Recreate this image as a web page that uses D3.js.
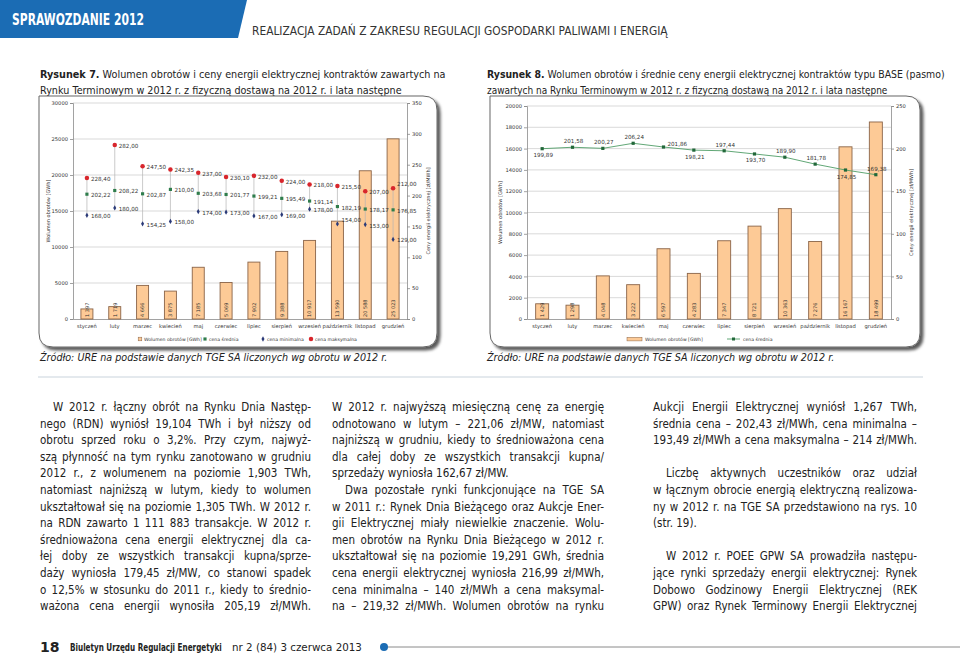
<!DOCTYPE html>
<html>
<head>
<meta charset="utf-8">
<script src="https://d3js.org/d3.v7.min.js"></script>
<style>
  body { margin: 0; background: #fff; }
  svg { display: block; }
</style>
</head>
<body>
<svg id="page" width="960" height="656"></svg>
<script>
// ---- Rysunek 7: dane ----
var months = ["styczeń", "luty", "marzec", "kwiecień", "maj", "czerwiec", "lipiec", "sierpień", "wrzesień", "październik", "listopad", "grudzień"];
var wolumen7 = [1397, 1719, 4666, 3875, 7185, 5069, 7902, 9388, 10917, 13590, 20588, 25023];
var cenaSrednia7 = [202.22, 208.22, 202.87, 210.00, 203.68, 201.77, 199.21, 195.49, 191.14, 182.19, 178.17, 176.85];
var cenaMin7 = [168.00, 180.00, 154.25, 158.00, 174.00, 173.00, 167.00, 169.00, 178.00, 154.00, 153.00, 129.00];
var cenaMax7 = [228.40, 282.00, 247.50, 242.35, 237.00, 230.10, 232.00, 224.00, 218.00, 215.50, 207.00, 212.00];
var ticksVol7 = [0, 5000, 10000, 15000, 20000, 25000, 30000];
var ticksPrice7 = [0, 50, 100, 150, 200, 250, 300, 350];

// ---- Rysunek 8: dane ----
var wolumen8 = [1429, 1298, 4048, 3222, 6597, 4283, 7347, 8721, 10363, 7276, 16167, 18499];
var cenaSrednia8 = [199.89, 201.58, 200.27, 206.24, 201.86, 198.21, 197.44, 193.70, 189.90, 181.78, 174.85, 169.38];
var ticksVol8 = [0, 2000, 4000, 6000, 8000, 10000, 12000, 14000, 16000, 18000, 20000];
var ticksPrice8 = [0, 50, 100, 150, 200, 250];

// tekst artykułu (linie jak w oryginale)
var col1 = [
  {t: "W 2012 r. łączny obrót na Rynku Dnia Następ-", ind: 1, j: 1},
  {t: "nego (RDN) wyniósł 19,104 TWh i był niższy od", j: 1},
  {t: "obrotu sprzed roku o 3,2%. Przy czym, najwyż-", j: 1},
  {t: "szą płynność na tym rynku zanotowano w grudniu", j: 1},
  {t: "2012 r., z wolumenem na poziomie 1,903 TWh,", j: 1},
  {t: "natomiast najniższą w lutym, kiedy to wolumen", j: 1},
  {t: "ukształtował się na poziomie 1,305 TWh. W 2012 r.", j: 1},
  {t: "na RDN zawarto 1 111 883 transakcje. W 2012 r.", j: 1},
  {t: "średnioważona cena energii elektrycznej dla ca-", j: 1},
  {t: "łej doby ze wszystkich transakcji kupna/sprze-", j: 1},
  {t: "daży wyniosła 179,45 zł/MW, co stanowi spadek", j: 1},
  {t: "o 12,5% w stosunku do 2011 r., kiedy to średnio-", j: 1},
  {t: "ważona cena energii wynosiła 205,19 zł/MWh.", j: 1}
];
var col2 = [
  {t: "W 2012 r. najwyższą miesięczną cenę za energię", j: 1},
  {t: "odnotowano w lutym – 221,06 zł/MW, natomiast", j: 1},
  {t: "najniższą w grudniu, kiedy to średnioważona cena", j: 1},
  {t: "dla całej doby ze wszystkich transakcji kupna/", j: 1},
  {t: "sprzedaży wyniosła 162,67 zł/MW."},
  {t: "Dwa pozostałe rynki funkcjonujące na TGE SA", ind: 1, j: 1},
  {t: "w 2011 r.: Rynek Dnia Bieżącego oraz Aukcje Ener-", j: 1},
  {t: "gii Elektrycznej miały niewielkie znaczenie. Wolu-", j: 1},
  {t: "men obrotów na Rynku Dnia Bieżącego w 2012 r.", j: 1},
  {t: "ukształtował się na poziomie 19,291 GWh, średnia", j: 1},
  {t: "cena energii elektrycznej wyniosła 216,99 zł/MWh,", j: 1},
  {t: "cena minimalna – 140 zł/MWh a cena maksymal-", j: 1},
  {t: "na – 219,32 zł/MWh. Wolumen obrotów na rynku", j: 1}
];
var col3 = [
  {t: "Aukcji Energii Elektrycznej wyniósł 1,267 TWh,", j: 1},
  {t: "średnia cena – 202,43 zł/MWh, cena minimalna –", j: 1},
  {t: "193,49 zł/MWh a cena maksymalna – 214 zł/MWh.", j: 1},
  {t: ""},
  {t: "Liczbę aktywnych uczestników oraz udział", ind: 1, j: 1},
  {t: "w łącznym obrocie energią elektryczną realizowa-", j: 1},
  {t: "ny w 2012 r. na TGE SA przedstawiono na rys. 10", j: 1},
  {t: "(str. 19)."},
  {t: ""},
  {t: "W 2012 r. POEE GPW SA prowadziła następu-", ind: 1, j: 1},
  {t: "jące rynki sprzedaży energii elektrycznej: Rynek", j: 1},
  {t: "Dobowo Godzinowy Energii Elektrycznej (REK", j: 1},
  {t: "GPW) oraz Rynek Terminowy Energii Elektrycznej", j: 1}
];

var BLUE = "#1b6cb4";
var BAR_FILL = "#fdca96", BAR_STROKE = "#8a6448";
var FONT = "'DejaVu Sans', Verdana, sans-serif";

var pl = d3.formatLocale({decimal: ",", thousands: " ", grouping: [3], currency: ["", " zł"]});
var fmtVol = pl.format(",");
var fmtPrice = pl.format(",.2f");
var fmtTick = pl.format("d");

var svg = d3.select("#page").style("font-family", FONT);

// tekst dopasowany do szerokości przez skalowanie w poziomie
function fitText(sel, width) {
  var n = sel.node();
  var w = n.getComputedTextLength();
  var x = +sel.attr("x"), y = +sel.attr("y");
  sel.attr("x", 0).attr("y", 0)
    .attr("transform", "translate(" + x + "," + y + ") scale(" + (width / w) + ",1)");
  return sel;
}

// cień ramki wykresu
var defs = svg.append("defs");
defs.append("filter").attr("id", "shadow").attr("x", "-5%").attr("y", "-5%").attr("width", "115%").attr("height", "115%")
  .append("feDropShadow").attr("dx", 3).attr("dy", 3).attr("stdDeviation", 1.6)
  .attr("flood-color", "#000").attr("flood-opacity", 0.65);

// ---- nagłówek ----
svg.append("path")
  .attr("d", "M0,0 H247 L238,38 H0 Z")
  .attr("fill", BLUE);
fitText(svg.append("text").attr("x", 12).attr("y", 25)
  .attr("fill", "#fff").attr("font-weight", "bold").attr("font-size", 16)
  .text("SPRAWOZDANIE 2012"), 132);
fitText(svg.append("text").attr("x", 252).attr("y", 35)
  .attr("fill", "#333").attr("font-size", 11.5)
  .text("REALIZACJA ZADAŃ Z ZAKRESU REGULACJI GOSPODARKI PALIWAMI I ENERGIĄ"), 416);

// tytuły rysunków
function figTitle(x, y, bold, rest, len) {
  var t = svg.append("text").attr("x", x).attr("y", y)
    .attr("font-size", 11).attr("fill", "#222");
  if (bold) t.append("tspan").attr("font-weight", "bold").text(bold);
  t.append("tspan").text(rest);
  fitText(t, len);
}
figTitle(40, 78, "Rysunek 7.", " Wolumen obrotów i ceny energii elektrycznej kontraktów zawartych na", 406);
figTitle(40, 94, null, "Rynku Terminowym w 2012 r. z fizyczną dostawą na 2012 r. i lata następne", 362);
figTitle(487, 78, "Rysunek 8.", " Wolumen obrotów i średnie ceny energii elektrycznej kontraktów typu BASE (pasmo)", 458);
figTitle(487, 94, null, "zawartych na Rynku Terminowym w 2012 r. z fizyczną dostawą na 2012 r. i lata następne", 401);

function framePath(x0, y0, x1, y1, r) {
  return "M" + x0 + "," + y0 + " H" + (x1 - r) + " Q" + x1 + "," + y0 + " " + x1 + "," + (y0 + r) +
    " V" + (y1 - r) + " Q" + x1 + "," + y1 + " " + (x1 - r) + "," + y1 +
    " H" + (x0 + r) + " Q" + x0 + "," + y1 + " " + x0 + "," + (y1 - r) + " Z";
}

// wspólna część obu wykresów: ramka, siatka, osie, słupki
function baseChart(o) {
  var g = svg.append("g");
  g.append("path").attr("d", framePath(o.fx0, o.fy0, o.fx1, o.fy1, 14))
    .attr("fill", "#fff").attr("stroke", "#666").attr("stroke-width", 1)
    .attr("filter", "url(#shadow)");

  var x = d3.scaleBand().domain(months).range([o.x0, o.x1]);
  var yL = d3.scaleLinear().domain([0, o.volMax]).range([o.y1, o.y0]);
  var yR = d3.scaleLinear().domain([0, o.priceMax]).range([o.y1, o.y0]);

  // siatka
  g.append("g").selectAll("line").data(o.ticksVol.slice(1)).join("line")
    .attr("x1", o.x0).attr("x2", o.x1)
    .attr("y1", function(d) { return yL(d); }).attr("y2", function(d) { return yL(d); })
    .attr("stroke", "#cfcfcf").attr("stroke-width", 0.8);

  // osie
  var axL = g.append("g").attr("transform", "translate(" + o.x0 + ",0)")
    .call(d3.axisLeft(yL).tickValues(o.ticksVol).tickFormat(fmtTick).tickSize(3).tickPadding(2));
  var axR = g.append("g").attr("transform", "translate(" + o.x1 + ",0)")
    .call(d3.axisRight(yR).tickValues(o.ticksPrice).tickFormat(fmtTick).tickSize(3).tickPadding(2));
  var axB = g.append("g").attr("transform", "translate(0," + o.y1 + ")")
    .call(d3.axisBottom(x).tickSize(0).tickPadding(5));
  [axL, axR, axB].forEach(function(a) {
    a.selectAll("text").attr("font-size", 5.2).attr("fill", "#333").style("font-family", FONT);
    a.selectAll(".domain").attr("stroke", "#8a8a8a").attr("stroke-width", 0.8);
    a.selectAll(".tick line").attr("stroke", "#8a8a8a").attr("stroke-width", 0.8);
  });
  axB.selectAll(".tick line").remove();

  // tytuły osi
  g.append("text").attr("transform", "translate(" + o.tl + "," + ((o.y0 + o.y1) / 2) + ") rotate(-90)")
    .attr("text-anchor", "middle").attr("font-size", 5).attr("fill", "#333")
    .text("Wolumen obrotów [GWh]");
  g.append("text").attr("transform", "translate(" + o.tr + "," + ((o.y0 + o.y1) / 2) + ") rotate(-90)")
    .attr("text-anchor", "middle").attr("font-size", 5).attr("fill", "#333")
    .text("Ceny energii elektrycznej [zł/MWh]");

  // słupki wolumenu
  var bw = o.barW;
  g.append("g").selectAll("rect").data(o.vol).join("rect")
    .attr("x", function(d, i) { return x(months[i]) + x.bandwidth() / 2 - bw / 2; })
    .attr("y", function(d) { return yL(d); })
    .attr("width", bw)
    .attr("height", function(d) { return o.y1 - yL(d); })
    .attr("fill", BAR_FILL).attr("stroke", BAR_STROKE).attr("stroke-width", 0.9);
  g.append("g").selectAll("text").data(o.vol).join("text")
    .attr("transform", function(d, i) {
      var cx = x(months[i]) + x.bandwidth() / 2;
      return "translate(" + (cx + 1.8) + "," + (o.y1 - 2) + ") rotate(-90)";
    })
    .attr("font-size", 5).attr("fill", "#333")
    .text(function(d) { return fmtVol(d); });

  return {g: g, x: x, yL: yL, yR: yR};
}

// ---- Rysunek 7 ----
var c7 = baseChart({
  fx0: 39, fy0: 96, fx1: 437, fy1: 347,
  x0: 73, x1: 407, y0: 103, y1: 319,
  volMax: 30000, priceMax: 350,
  ticksVol: ticksVol7, ticksPrice: ticksPrice7,
  vol: wolumen7, barW: 12, tl: 50, tr: 430
});
(function() {
  var g = c7.g, x = c7.x, yR = c7.yR;
  function cx(i) { return x(months[i]) + x.bandwidth() / 2; }
  // linie min-max
  g.append("g").selectAll("line").data(months).join("line")
    .attr("x1", function(d, i) { return cx(i); }).attr("x2", function(d, i) { return cx(i); })
    .attr("y1", function(d, i) { return yR(cenaMin7[i]); })
    .attr("y2", function(d, i) { return yR(cenaMax7[i]); })
    .attr("stroke", "#b5b5b5").attr("stroke-width", 0.7);

  var series = [
    {vals: cenaMax7, color: "#d8262c", shape: "circle"},
    {vals: cenaSrednia7, color: "#2f7d4c", shape: "square"},
    {vals: cenaMin7, color: "#2b3a78", shape: "diamond"}
  ];
  var sym = {
    circle: d3.symbol().type(d3.symbolCircle).size(16),
    square: d3.symbol().type(d3.symbolSquare).size(10),
    diamond: d3.symbol().type(d3.symbolDiamond).size(8)
  };
  series.forEach(function(s) {
    g.append("g").selectAll("path").data(s.vals).join("path")
      .attr("transform", function(d, i) { return "translate(" + cx(i) + "," + yR(d) + ")"; })
      .attr("d", sym[s.shape]())
      .attr("fill", s.color);
    g.append("g").selectAll("text").data(s.vals).join("text")
      .attr("x", function(d, i) { return cx(i) + 4; })
      .attr("y", function(d, i) {
        var dy = 3;
        if (s.vals === cenaMin7 && i === 9) dy = -2;
        if (s.vals === cenaMax7 && i === 11) dy = -2;
        return yR(d) + dy;
      })
      .attr("font-size", 5.6).attr("fill", "#333")
      .text(function(d) { return fmtPrice(d); });
  });

  // legenda
  var lg = g.append("g").attr("font-size", 4.6).attr("fill", "#333");
  var items = [
    {x: 140, label: "Wolumen obrotów [GWh]", draw: function(s) { s.append("rect").attr("x", -1.8).attr("y", -1.8).attr("width", 3.6).attr("height", 3.6).attr("fill", BAR_FILL).attr("stroke", BAR_STROKE).attr("stroke-width", 0.5); }},
    {x: 205, label: "cena średnia", draw: function(s) { s.append("path").attr("d", sym.square()).attr("fill", "#2f7d4c"); }},
    {x: 263, label: "cena minimalna", draw: function(s) { s.append("path").attr("d", sym.diamond()).attr("fill", "#2b3a78"); }},
    {x: 311, label: "cena maksymalna", draw: function(s) { s.append("path").attr("d", sym.circle()).attr("fill", "#d8262c"); }}
  ];
  items.forEach(function(it) {
    var s = lg.append("g").attr("transform", "translate(" + it.x + ",339)");
    it.draw(s);
    s.append("text").attr("x", 4).attr("y", 1.7).text(it.label);
  });
})();

// ---- Rysunek 8 ----
var c8 = baseChart({
  fx0: 490, fy0: 96, fx1: 920, fy1: 347,
  x0: 527, x1: 891, y0: 106, y1: 319,
  volMax: 20000, priceMax: 250,
  ticksVol: ticksVol8, ticksPrice: ticksPrice8,
  vol: wolumen8, barW: 13, tl: 502, tr: 913
});
(function() {
  var g = c8.g, x = c8.x, yR = c8.yR;
  function cx(i) { return x(months[i]) + x.bandwidth() / 2; }
  var line = d3.line()
    .x(function(d, i) { return cx(i); })
    .y(function(d) { return yR(d); });
  g.append("path").datum(cenaSrednia8).attr("d", line)
    .attr("fill", "none").attr("stroke", "#4f9d67").attr("stroke-width", 0.9);
  g.append("g").selectAll("rect").data(cenaSrednia8).join("rect")
    .attr("x", function(d, i) { return cx(i) - 1.6; })
    .attr("y", function(d) { return yR(d) - 1.6; })
    .attr("width", 3.2).attr("height", 3.2).attr("fill", "#22683a");
  // położenie etykiet: nad lub pod punktem
  var place = ["below", "above", "above", "above", "right", "below", "above", "below", "above", "above", "below", "above"];
  g.append("g").selectAll("text").data(cenaSrednia8).join("text")
    .attr("x", function(d, i) { return cx(i) + (place[i] === "right" ? 4 : 1); })
    .attr("y", function(d, i) {
      var p = place[i];
      return yR(d) + (p === "below" ? 8.5 : p === "above" ? -4 : -1);
    })
    .attr("text-anchor", function(d, i) { return place[i] === "right" ? "start" : "middle"; })
    .attr("font-size", 5.6).attr("fill", "#333")
    .text(function(d) { return fmtPrice(d); });

  // legenda
  var lg = g.append("g").attr("font-size", 4.6).attr("fill", "#333");
  lg.append("rect").attr("x", 627).attr("y", 337.3).attr("width", 15).attr("height", 3.6)
    .attr("fill", BAR_FILL).attr("stroke", BAR_STROKE).attr("stroke-width", 0.5);
  lg.append("text").attr("x", 645).attr("y", 340.8).text("Wolumen obrotów [GWh]");
  lg.append("line").attr("x1", 727).attr("x2", 740).attr("y1", 339).attr("y2", 339)
    .attr("stroke", "#4f9d67").attr("stroke-width", 0.9);
  lg.append("rect").attr("x", 732).attr("y", 337.5).attr("width", 3).attr("height", 3).attr("fill", "#22683a");
  lg.append("text").attr("x", 743).attr("y", 340.8).text("cena średnia");
})();

// źródła
[40, 487].forEach(function(x) {
  fitText(svg.append("text").attr("x", x).attr("y", 361)
    .attr("font-size", 10.5).attr("font-style", "italic").attr("fill", "#222")
    .text("Źródło: URE na podstawie danych TGE SA liczonych wg obrotu w 2012 r."), 348);
});

// linia oddzielająca
svg.append("line").attr("x1", 38).attr("x2", 923).attr("y1", 377).attr("y2", 377)
  .attr("stroke", "#c9d3dc").attr("stroke-width", 1);

// ---- kolumny tekstu (wyjustowane) ----
function drawColumn(lines, x, w) {
  var g = svg.append("g").attr("font-size", 11.5).attr("fill", "#222")
    .style("font-stretch", "condensed");
  lines.forEach(function(ln, i) {
    if (!ln.t) return;
    var ind = ln.ind ? 13 : 0;
    var t = g.append("text").attr("x", x + ind).attr("y", 411 + i * 16.6).text(ln.t);
    if (ln.j) {
      var nat = t.node().getComputedTextLength();
      var gaps = ln.t.split(" ").length - 1;
      var ws = gaps ? (w - ind - nat) / gaps : 0;
      if (ws > -1.2) t.style("word-spacing", ws + "px");
      else fitText(t, w - ind);
    }
  });
}
drawColumn(col1, 40, 271);
drawColumn(col2, 332, 272);
drawColumn(col3, 653, 264);

// ---- stopka ----
svg.append("text").attr("x", 40).attr("y", 652).attr("font-size", 14).attr("font-weight", "bold")
  .attr("fill", "#222").text("18");
fitText(svg.append("text").attr("x", 70).attr("y", 651).attr("font-size", 10.5).attr("fill", "#222")
  .attr("font-weight", "bold").text("Biuletyn Urzędu Regulacji Energetyki"), 152);
fitText(svg.append("text").attr("x", 232).attr("y", 651).attr("font-size", 10.5).attr("fill", "#222")
  .text("nr 2 (84) 3 czerwca 2013"), 130);
svg.append("line").attr("x1", 384).attr("x2", 960).attr("y1", 647).attr("y2", 647)
  .attr("stroke", "#8a8a8a").attr("stroke-width", 1);
svg.append("circle").attr("cx", 384).attr("cy", 647).attr("r", 4).attr("fill", BLUE);
</script>
</body>
</html>
